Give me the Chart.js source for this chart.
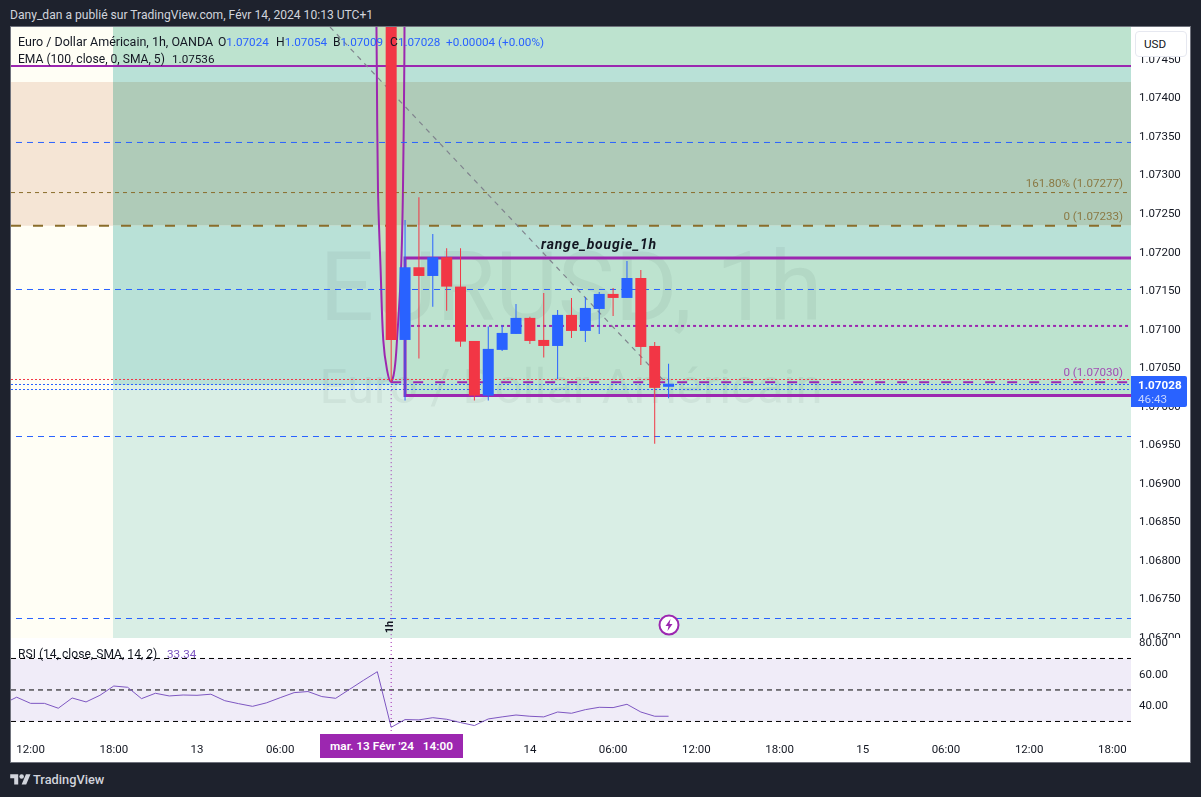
<!DOCTYPE html>
<html lang="fr"><head><meta charset="utf-8">
<script src="https://cdn.jsdelivr.net/npm/chart.js@4"></script>
<style>
html,body{margin:0;padding:0;background:#1e222d;width:1201px;height:797px;overflow:hidden}
body{font-family:Roboto,sans-serif;font-size:12.1px;color:#131722}
.a{position:absolute;white-space:pre;line-height:16px}
canvas{position:absolute;display:block}
#frame{position:absolute;left:10px;top:26px;width:1179px;height:735px;border:1px solid #6f727c;background:#fff}
.v{color:#2962ff;font-size:11.7px}
.n{font-size:11.7px}
</style></head><body>
<div id="frame"></div>
<canvas id="main" width="1179" height="611" style="left:11px;top:27px"></canvas>
<canvas id="rsi" width="1179" height="124" style="left:11px;top:638px"></canvas>

<div class="a" style="left:10px;top:7px;color:#d1d4dc;font-size:12.1px">Dany_dan a publié sur TradingView.com, Févr 14, 2024 10:13 UTC+1</div>
<div class="a" style="left:18px;top:34px;font-size:12.5px">Euro / Dollar Américain, 1h, OANDA</div>
<div class="a" style="left:218px;top:34px">O<span class="v">1.07024</span></div>
<div class="a" style="left:276px;top:34px">H<span class="v">1.07054</span></div>
<div class="a" style="left:333px;top:34px">B<span class="v">1.07009</span></div>
<div class="a" style="left:390px;top:34px">C<span class="v">1.07028</span></div>
<div class="a v" style="left:446px;top:34px">+0.00004 (+0.00%)</div>
<div class="a" style="left:18px;top:51px">EMA (100, close, 0, SMA, 5)</div>
<div class="a n" style="left:172px;top:51px">1.07536</div>
<div class="a" style="left:18px;top:646px">RSI (14, close, SMA, 14, 2)</div>
<div class="a n" style="left:167px;top:646px;color:#7e57c2">33.34</div>

<div class="a" style="left:1135px;top:31px;width:52px;height:26px;box-sizing:border-box;background:#fff;border:1px solid #e6e8f0;border-radius:4px;line-height:24px;padding-left:8px;font-size:11.7px">USD</div>
<div class="a" style="left:1131px;top:376px;width:56px;height:31px;background:#2962ff;border-radius:0 2px 2px 0"></div>
<div class="a n" style="left:1138px;top:377px;color:#fff;font-weight:700">1.07028</div>
<div class="a n" style="left:1138px;top:391px;color:#c6d5ff">46:43</div>

<div class="a" style="left:320px;top:734px;width:143px;height:24px;background:#9c27b0;color:#fff;font-weight:600;line-height:24px;text-align:center;font-size:11.8px">mar. 13 Févr '24   14:00</div>

<div class="a" style="left:383px;top:620px;width:14px;height:14px;line-height:14px;text-align:center;font-weight:700;font-size:11px;transform:rotate(-90deg)">1h</div>
<svg style="position:absolute;left:658px;top:614px" width="22" height="22" viewBox="0 0 22 22"><circle cx="11" cy="11" r="9.5" fill="#fff" stroke="#9c27b0" stroke-width="2"/><path d="M12.5 5 L7.5 12 H10.5 L9.5 17 L14.5 10 H11.5 Z" fill="#9c27b0"/></svg>

<svg style="position:absolute;left:10px;top:772px" width="21" height="16" viewBox="0 0 36 28"><path fill="#d1d4dc" d="M14 22H7V11H0V4h14v18zM28 22h-8l7.5-18h8L28 22z"/><circle fill="#d1d4dc" cx="20" cy="8" r="4"/></svg>
<div class="a" style="left:33px;top:772px;color:#d1d4dc;font-size:12.8px;font-weight:500">TradingView</div>

<script>
// ---- time axis (hours since 13 Feb 00:00) ----
const timeMin = -13.41, timeMax = 67.34;
const timeTicks = [-12, -6, 0, 6, 24, 30, 36, 42, 48, 54, 60, 66];
const timeLabels = ['12:00','18:00','13','06:00','14','06:00','12:00','18:00','15','06:00','12:00','18:00'];

// ---- price axis ----
const priceMin = 1.0669812, priceMax = 1.074908;
const priceTicks = [1.0745,1.074,1.0735,1.073,1.0725,1.072,1.0715,1.071,1.0705,1.07,1.0695,1.069,1.0685,1.068,1.0675,1.067];

// ---- candles ----
const candleHours = [14,15,16,17,18,19,20,21,22,23,24,25,26,27,28,29,30,31,32,33,34];
const opens  = [1.0762,1.070848,1.071791,1.071678,1.071921,1.07154,1.070835,1.070126,1.070719,1.070926,1.071134,1.070848,1.07077,1.071173,1.070965,1.07125,1.071445,1.071393,1.071652,1.07077,1.07024];
const closes = [1.070848,1.071791,1.071678,1.071921,1.07154,1.070826,1.070126,1.070732,1.070939,1.071134,1.070835,1.07077,1.071173,1.070965,1.071263,1.071445,1.071393,1.071652,1.070757,1.070226,1.07028];
const highs  = [1.0765,1.072405,1.072699,1.072223,1.072038,1.072038,1.070835,1.071021,1.071043,1.071315,1.07115,1.071458,1.071237,1.071393,1.071406,1.071471,1.071523,1.071873,1.071756,1.070822,1.07054];
const lows   = [1.070303,1.070061,1.070606,1.07128,1.071228,1.070761,1.070061,1.070061,1.070706,1.070926,1.070796,1.070619,1.070342,1.070874,1.070822,1.070926,1.07116,1.071393,1.070524,1.0695,1.07009];

// ---- drawn levels ----
const levelTopLine = 1.074402, levelZoneTop = 1.074195, levelZoneBottom = 1.07233, levelFibHigh = 1.07276;
const levelMid = 1.070265, levelBoxTop = 1.071912, levelBoxBottom = 1.070128, levelBoxDots = 1.07103, levelFibZero = 1.0703;
const blueDashed = [1.07341, 1.0715025, 1.0695953, 1.067234];
const blueDotted = [1.07027, 1.070205];
const redDotted = 1.070335;
const zoneStartHour = -6.06, boxStartHour = 15, crossHour = 14;

// ---- drawn curve ----
const curveHours  = [12.94,12.96,13.05,13.24,13.43,13.70,13.99,14.24,14.42,14.71,14.85,14.95,14.96];
const curvePrices = [1.074908,1.07448,1.072794,1.071756,1.070848,1.070459,1.070303,1.070459,1.070848,1.071756,1.072794,1.07448,1.074908];
const diagHours  = [9.59, 33.75];
const diagPrices = [1.074908, 1.0703];

// ---- RSI ----
const rsiHours = [-14,-13,-12,-11,-10,-9,-8,-7,-6,-5,-4,-3,-2,-1,0,1,2,3,4,5,6,7,8,9,10,11,12,13,14,15,16,17,18,19,20,21,22,23,24,25,26,27,28,29,30,31,32,33,34];
const rsiValues = [41.1,45.4,41.5,41.5,38.4,44.9,42.4,46.6,52.5,51.7,44.5,47.9,46.2,46.8,46.6,47.3,43.2,41.3,39.6,41.8,45.1,48.3,49.0,45.8,44.7,50.4,56.1,61.6,26.3,31.2,31.0,32.4,31.4,29.3,27.4,31.6,32.9,34.1,33.3,32.9,36.0,35.2,37.5,39.0,38.8,40.9,36.0,33.3,33.3];
const rsiTicks = [80, 60, 40];
const rsiMin = 21.4, rsiMax = 83.0, rsiUpper = 70, rsiMiddle = 50, rsiLower = 30;

// ---- texts on the chart ----
const wmTitle = 'EURUSD, 1h', wmSub = 'Euro / Dollar Américain';
const levelTexts = [
  ['161.80% (1.07277)', levelFibHigh, '#8b7a45'],
  ['0 (1.07233)', levelZoneBottom, '#8b7a45'],
  ['0 (1.07030)', levelFibZero, '#a24db3']
];
const boxTitle = 'range_bougie_1h';

const FONT = 'Roboto, sans-serif';
Chart.defaults.font.family = FONT;
Chart.defaults.font.size = 11.5;
Chart.defaults.color = '#131722';

function builder() {
  const list = [];
  const add = d => { d.order = 1000 - list.length; d.pointRadius = 0; d.pointHoverRadius = 0; list.push(d); return d; };
  return {
    list,
    band: (x0, x1, top, bottom, color) => add({ type:'line', data:[{x:x0,y:top},{x:x1,y:top}], borderWidth:0, fill:{value:bottom}, backgroundColor:color }),
    line: (xs, ys, color, width, dash, extra) => add(Object.assign({ type:'line', data:xs.map((x,i)=>({x,y:ys[i]})), borderColor:color, borderWidth:width, borderDash:dash||[], fill:false, tension:0 }, extra||{})),
    bars: (d) => add(d)
  };
}
const M = builder();
const P = { ivory:'#fffef5', peach:'#f5e5d5', green:'#bde3cf', teal:'#b9e1d7', olive:'#afcbb8', pale:'#d9eee5', purple:'#9c27b0', blue:'#2962ff', brown:'#8a6d2b', red:'#f23645' };

// backgrounds
M.band(timeMin, zoneStartHour, priceMax, priceMin, P.ivory);
M.band(timeMin, zoneStartHour, levelZoneTop, levelZoneBottom, P.peach);
M.band(zoneStartHour, timeMax, priceMax, levelTopLine, P.green);
M.band(zoneStartHour, timeMax, levelTopLine, levelZoneTop, P.teal);
M.band(zoneStartHour, timeMax, levelZoneTop, levelZoneBottom, P.olive);
M.band(zoneStartHour, timeMax, levelZoneBottom, levelMid, P.teal);
M.band(zoneStartHour, timeMax, levelMid, priceMin, P.pale);
M.band(boxStartHour, timeMax, levelBoxTop, levelBoxBottom, P.green);
// curve (its inside is tinted)
M.line(curveHours, curvePrices, P.purple, 2, [], { tension:0.35, fill:{value:priceMax+0.001}, backgroundColor:'rgba(240,230,120,0.2)', wm:true });
// levels
M.line([timeMin,timeMax], [levelTopLine,levelTopLine], P.purple, 2);
blueDashed.forEach(v => M.line([-13.05,timeMax], [v,v], P.blue, 1, [6,5]));
M.line([timeMin,timeMax], [levelFibHigh,levelFibHigh], P.brown, 1, [4,4]);
M.line([timeMin,timeMax], [levelZoneBottom,levelZoneBottom], P.brown, 2, [10,12]);
M.line([boxStartHour,timeMax], [levelBoxDots,levelBoxDots], P.purple, 2, [3,3]);
M.line([crossHour,timeMax], [levelFibZero,levelFibZero], P.purple, 2, [10,12]);
M.line([timeMin,timeMax], [redDotted,redDotted], P.red, 1, [2,2]);
blueDotted.forEach(v => M.line([timeMin,timeMax], [v,v], P.blue, 1, [2,2]));
M.line([timeMax,boxStartHour,boxStartHour,timeMax], [levelBoxTop,levelBoxTop,levelBoxBottom,levelBoxBottom], P.purple, 3);
M.line(diagHours, diagPrices, '#80848e', 1.2, [5,5]);
M.line([crossHour,crossHour], [levelFibZero,priceMin], P.purple, 1, [1,3]);
// candles
const candleColors = opens.map((o,i) => closes[i] >= o ? P.blue : P.red);
M.bars({ type:'bar', data:candleHours.map((x,i)=>({x,y:[lows[i],highs[i]]})), backgroundColor:candleColors, barThickness:1, grouped:false, borderWidth:0, inflateAmount:0 });
M.bars({ type:'bar', data:candleHours.map((x,i)=>({x,y:[opens[i],closes[i]]})), backgroundColor:candleColors, barThickness:11, grouped:false, borderWidth:0, inflateAmount:0 });

const noPad = s => { s.paddingTop = 0; s.paddingBottom = 0; s.paddingLeft = 0; s.paddingRight = 0; };
const sharedX = {
  type:'linear', min:timeMin, max:timeMax, offset:false, grid:{display:false,offset:false}, border:{display:false}
};
const xTickCfg = {
  autoSkip:false, maxRotation:0, padding:0,
  callback:v => { const i = timeTicks.indexOf(v); return i<0 ? '' : timeLabels[i]; }
};

const overlay = {
  id:'overlay',
  beforeDatasetDraw(chart,args){
    if(!chart.data.datasets[args.index].wm) return;
    const c = chart.ctx, a = chart.chartArea, mid = (a.left+a.right)/2;
    c.save();
    c.fillStyle = 'rgba(42,46,57,0.06)';
    c.textAlign = 'center'; c.textBaseline = 'alphabetic';
    c.font = '96px '+FONT;
    c.fillText(wmTitle, mid, 293);
    c.font = '49px '+FONT;
    c.fillText(wmSub, mid, 376);
    c.restore();
  },
  afterDatasetsDraw(chart){
    const c = chart.ctx, y = chart.scales.y, a = chart.chartArea;
    c.save();
    c.textAlign = 'right'; c.textBaseline = 'alphabetic';
    c.font = '11.6px '+FONT;
    levelTexts.forEach(([t,v,col]) => { c.fillStyle = col; c.fillText(t, a.right-8, y.getPixelForValue(v)-6); });
    c.textAlign = 'center';
    c.fillStyle = '#131722';
    c.font = 'italic bold 14px '+FONT;
    c.letterSpacing = '0.8px';
    c.fillText(boxTitle, 588, y.getPixelForValue(levelBoxTop)-9);
    c.restore();
  }
};

new Chart(document.getElementById('main'), {
  type:'bar',
  data:{ datasets:M.list },
  options:{
    responsive:false, animation:false, devicePixelRatio:1,
    layout:{padding:0},
    plugins:{ legend:{display:false}, tooltip:{enabled:false} },
    scales:{
      x:Object.assign({}, sharedX, { display:false }),
      y:{ position:'right', min:priceMin, max:priceMax, grid:{display:false}, border:{display:false},
          afterBuildTicks:s => { s.ticks = priceTicks.map(value=>({value})); },
          afterFit:s => { s.width = 59; noPad(s); },
          ticks:{ autoSkip:false, padding:0, labelOffset:1.5, callback:v => v.toFixed(5) } }
    }
  },
  plugins:[overlay]
});

const R = builder();
R.band(timeMin, timeMax, rsiUpper, rsiLower, '#f0ecf8');
[rsiUpper, rsiMiddle, rsiLower].forEach(v => R.line([timeMin,timeMax], [v,v], '#000', 1, [5,4]));
R.line([crossHour,crossHour], [rsiMax,rsiMin], P.purple, 1, [1,3]);
R.line(rsiHours, rsiValues, '#7e57c2', 1);

new Chart(document.getElementById('rsi'), {
  type:'line',
  data:{ datasets:R.list },
  options:{
    responsive:false, animation:false, devicePixelRatio:1,
    layout:{padding:0},
    plugins:{ legend:{display:false}, tooltip:{enabled:false} },
    scales:{
      x:Object.assign({}, sharedX, {
        afterBuildTicks:s => { s.ticks = timeTicks.map(value=>({value})); },
        afterFit:s => { s.height = 27; noPad(s); },
        ticks:xTickCfg
      }),
      y:{ position:'right', min:rsiMin, max:rsiMax, grid:{display:false}, border:{display:false},
          afterBuildTicks:s => { s.ticks = rsiTicks.map(value=>({value})); },
          afterFit:s => { s.width = 59; noPad(s); },
          ticks:{ autoSkip:false, padding:0, labelOffset:0.5, callback:v => v.toFixed(2) } }
    }
  }
});
</script>
</body></html>
